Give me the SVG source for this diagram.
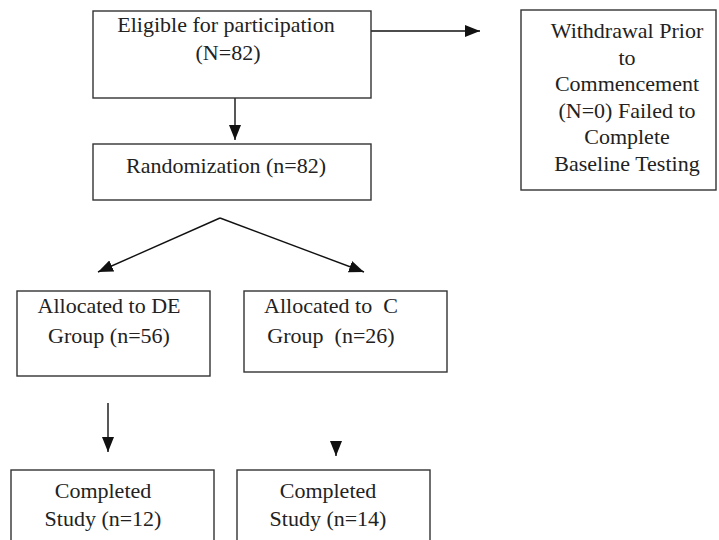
<svg xmlns="http://www.w3.org/2000/svg" width="719" height="540" viewBox="0 0 719 540">
<style>
.box{fill:#fff;stroke:#333;stroke-width:1.4}
.t{font-family:'Liberation Serif', 'Times New Roman', serif;font-size:22px;fill:#222;text-anchor:middle;white-space:pre}
.c{stroke:#111;stroke-width:1.4;fill:none}
</style>
<defs>
<marker id="ah" markerUnits="userSpaceOnUse" markerWidth="15" markerHeight="12" viewBox="0 0 15 12" refX="15" refY="6" orient="auto">
<path d="M0,0 L15,6 L0,12 z" fill="#111"/>
</marker>
</defs>
<rect width="719" height="540" fill="#fff"/>
<g id="connectors">
<line class="c" x1="371" y1="31" x2="480" y2="31" marker-end="url(#ah)"/>
<line class="c" x1="235" y1="98" x2="235" y2="103" stroke="#777"/>
<line class="c" x1="235" y1="103" x2="235" y2="140" marker-end="url(#ah)"/>
<line class="c" x1="220" y1="218" x2="98" y2="272" marker-end="url(#ah)"/>
<line class="c" x1="220" y1="218" x2="364" y2="272" marker-end="url(#ah)"/>
<line class="c" x1="108" y1="403" x2="108" y2="452" marker-end="url(#ah)"/>
<line class="c" x1="336" y1="444" x2="336" y2="456" marker-end="url(#ah)"/>
</g>
<g id="eligible">
<rect class="box" x="93" y="11" width="278" height="87"/>
<text class="t" x="226" y="32">Eligible for participation</text>
<text class="t" x="228" y="60">(N=82)</text>
</g>
<g id="withdrawal">
<rect class="box" x="521" y="10" width="195" height="180"/>
<text class="t" x="627" y="38">Withdrawal Prior</text>
<text class="t" x="627" y="64.5">to</text>
<text class="t" x="627" y="91">Commencement</text>
<text class="t" x="627" y="117.5">(N=0) Failed to</text>
<text class="t" x="627" y="144">Complete</text>
<text class="t" x="627" y="170.5">Baseline Testing</text>
</g>
<g id="randomization">
<rect class="box" x="93" y="144" width="278" height="56"/>
<text class="t" x="226" y="173">Randomization (n=82)</text>
</g>
<g id="allocDE">
<rect class="box" x="17" y="291" width="193" height="85"/>
<text class="t" x="109" y="313">Allocated to DE</text>
<text class="t" x="109" y="343">Group (n=56)</text>
</g>
<g id="allocC">
<rect class="box" x="244" y="291" width="203" height="81"/>
<text class="t" x="331" y="313">Allocated to  C</text>
<text class="t" x="331" y="343">Group  (n=26)</text>
</g>
<g id="completedDE">
<rect class="box" x="11" y="470" width="203" height="80"/>
<text class="t" x="103" y="498">Completed</text>
<text class="t" x="103" y="526">Study (n=12)</text>
</g>
<g id="completedC">
<rect class="box" x="237" y="470" width="193" height="80"/>
<text class="t" x="328" y="498">Completed</text>
<text class="t" x="328" y="526">Study (n=14)</text>
</g>
</svg>
